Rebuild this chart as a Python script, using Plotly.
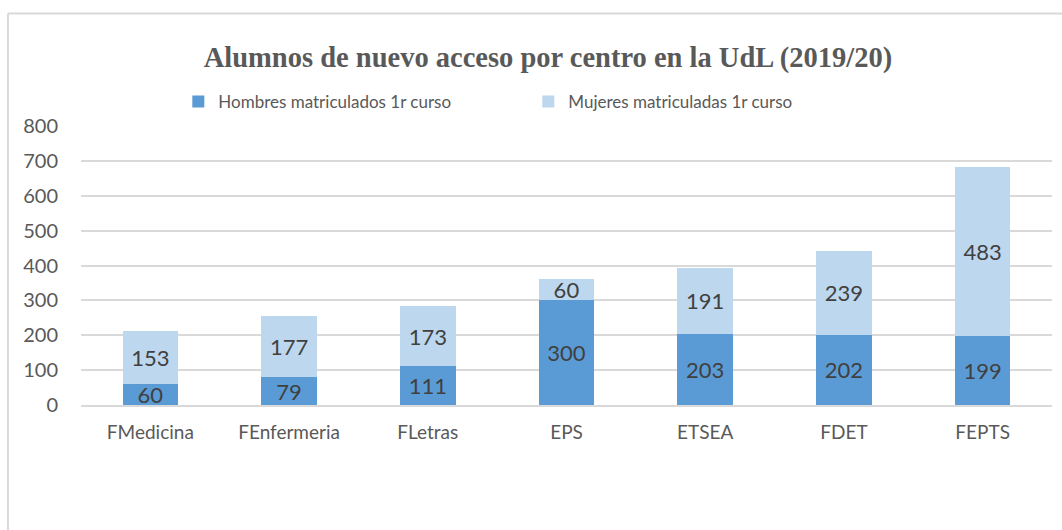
import plotly.graph_objects as go

categories = ["FMedicina", "FEnfermeria", "FLetras", "EPS", "ETSEA", "FDET", "FEPTS"]
hombres = [60, 79, 111, 300, 203, 202, 199]
mujeres = [153, 177, 173, 60, 191, 239, 483]
y_ticks = [0, 100, 200, 300, 400, 500, 600, 700, 800]

font_sans = "Lato, 'Open Sans', sans-serif"

fig = go.Figure()
fig.add_trace(go.Bar(
    x=categories, y=hombres, name="Hombres matriculados 1r curso",
    marker=dict(color="#5b9bd5", line=dict(width=0)),
    text=hombres, textposition="inside", insidetextanchor="middle",
    textangle=0, textfont=dict(size=22, color="#404040", family=font_sans),
    constraintext="none", hoverinfo="x+y+name",
))
fig.add_trace(go.Bar(
    x=categories, y=mujeres, name="Mujeres matriculadas 1r curso",
    marker=dict(color="#bdd7ee", line=dict(width=0)),
    text=mujeres, textposition="inside", insidetextanchor="middle",
    textangle=0, textfont=dict(size=22, color="#404040", family=font_sans),
    constraintext="none", hoverinfo="x+y+name",
))

L, R, T, B = 80.6, 9.6, 126, 125
W, H = 1062, 530
pw = W - L - R
ph = H - T - B

fig.update_layout(
    width=W, height=H,
    barmode="stack", bargap=0.6,
    margin=dict(l=L, r=R, t=T, b=B, pad=0),
    paper_bgcolor="white", plot_bgcolor="white",
    font=dict(family=font_sans, color="#595959"),
    title=dict(text="<b>Alumnos de nuevo acceso por centro en la UdL (2019/20)</b>",
               font=dict(family="'Liberation Serif', 'Times New Roman', serif", size=28.5, color="#595959"),
               x=548 / W, xanchor="center", xref="container",
               y=1 - 57 / H, yanchor="middle", yref="container"),
    legend=dict(orientation="h", x=(178 - L) / pw, xanchor="left",
                y=(H - B - 102) / ph, yanchor="middle",
                font=dict(size=17, color="#595959", family=font_sans),
                entrywidth=305, entrywidthmode="pixels", itemwidth=30,
                bgcolor="rgba(0,0,0,0)", traceorder="normal"),
    uniformtext=dict(mode="show", minsize=22),
    xaxis=dict(showgrid=False, showline=True, linecolor="#d9d9d9", linewidth=2,
               ticks="", tickfont=dict(size=19, color="#595959"), ticklabelstandoff=9),
    yaxis=dict(range=[0, 800], tickvals=y_ticks, showgrid=True, gridcolor="#d9d9d9",
               gridwidth=1.5, zeroline=False, ticks="", showline=False,
               tickfont=dict(size=20, color="#595959"), ticklabelstandoff=22),
    showlegend=True,
)

# chart border (top and left visible)
fig.add_shape(type="line", xref="paper", yref="paper",
              x0=(7.5 - L) / pw, x1=(W + 5 - L) / pw,
              y0=(H - B - 13.5) / ph, y1=(H - B - 13.5) / ph,
              line=dict(color="#d9d9d9", width=2))
fig.add_shape(type="line", xref="paper", yref="paper",
              x0=(7.5 - L) / pw, x1=(7.5 - L) / pw,
              y0=(H - B - 13.5) / ph, y1=(H - B - H - 5) / ph,
              line=dict(color="#d9d9d9", width=2))

fig.write_html("out.html")
